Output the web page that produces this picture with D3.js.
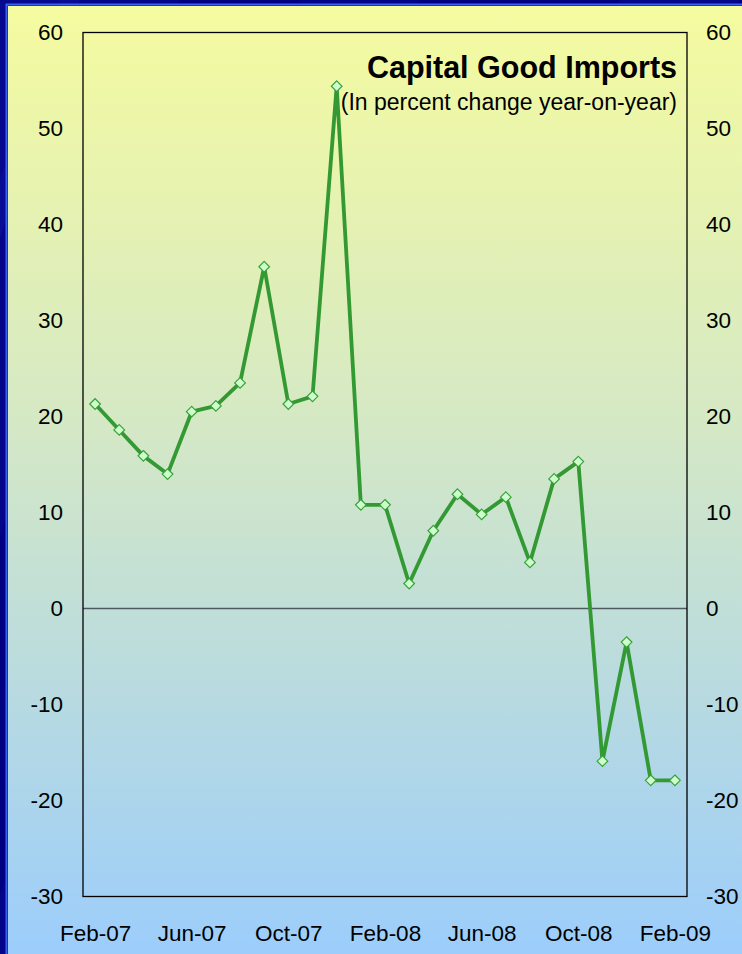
<!DOCTYPE html>
<html>
<head>
<meta charset="utf-8">
<script src="https://cdn.jsdelivr.net/npm/d3@7"></script>
<style>
  html, body { margin: 0; padding: 0; background: #000080; }
  svg { display: block; }
  text { font-family: "Liberation Sans", Arial, sans-serif; fill: #000; }
</style>
</head>
<body>
<svg id="chart" width="742" height="954"></svg>
<script>
// Monthly observations, Feb-07 through Feb-09
const months = [
  "Feb-07","Mar-07","Apr-07","May-07","Jun-07","Jul-07","Aug-07","Sep-07","Oct-07","Nov-07","Dec-07","Jan-08",
  "Feb-08","Mar-08","Apr-08","May-08","Jun-08","Jul-08","Aug-08","Sep-08","Oct-08","Nov-08","Dec-08","Jan-09","Feb-09"
];
const importGrowth = [
  21.3, 18.6, 15.9, 14.0, 20.5, 21.1, 23.5, 35.6, 21.3, 22.1, 54.4, 10.8,
  10.8, 2.6, 8.1, 11.9, 9.8, 11.6, 4.8, 13.5, 15.3, -15.9, -3.5, -17.9, -17.9
];
const yTicks = [60, 50, 40, 30, 20, 10, 0, -10, -20, -30];
const xTickLabels = ["Feb-07","Jun-07","Oct-07","Feb-08","Jun-08","Oct-08","Feb-09"];
const titleText = "Capital Good Imports";
const subtitleText = "(In percent change year-on-year)";

const W = 742, H = 954;
const plot = { left: 83, right: 687, top: 32.5, bottom: 896.5 };

const svg = d3.select("#chart");
const defs = svg.append("defs");

// Slide frame: navy with faint diagonal streaks
svg.append("rect").attr("width", W).attr("height", H).attr("fill", "#000080");
const streaks = [[-40, 0.10], [60, 0.07], [300, 0.06], [620, 0.08], [820, 0.05]];
streaks.forEach(([o, a]) => {
  svg.append("path")
    .attr("d", `M${o},0 L${o + 120},0 L${o - 200},${H} L${o - 320},${H} Z`)
    .attr("fill", "#3a4cff").attr("opacity", a);
});

// Background panel with vertical yellow-to-blue gradient
const grad = defs.append("linearGradient")
  .attr("id", "panelGrad").attr("x1", 0).attr("y1", 0).attr("x2", 0).attr("y2", 1);
grad.append("stop").attr("offset", "0%").attr("stop-color", "#f5fb9f");
grad.append("stop").attr("offset", "45%").attr("stop-color", "#d4e8c6");
grad.append("stop").attr("offset", "100%").attr("stop-color", "#9ccdfb");

svg.append("rect").attr("x", 6.5).attr("y", 4.5).attr("width", W).attr("height", H)
  .attr("fill", "none").attr("stroke", "#3a62f2").attr("stroke-width", 2);
svg.append("rect").attr("x", 8).attr("y", 6).attr("width", W - 8).attr("height", H - 6)
  .attr("fill", "url(#panelGrad)");

// Scales
const x = d3.scalePoint().domain(months).range([plot.left, plot.right]).padding(0.5);
const y = d3.scaleLinear().domain([-30, 60]).range([plot.bottom, plot.top]);

// Zero line
svg.append("line")
  .attr("x1", plot.left).attr("x2", plot.right)
  .attr("y1", y(0)).attr("y2", y(0))
  .attr("stroke", "#4d5a60").attr("stroke-width", 1.3);

// Plot frame
svg.append("rect")
  .attr("x", plot.left).attr("y", plot.top)
  .attr("width", plot.right - plot.left).attr("height", plot.bottom - plot.top)
  .attr("fill", "none").attr("stroke", "#000").attr("stroke-width", 1.3);

// Axes (labels only); plain hyphen for negatives
const fmt = d => String(d);
const leftAxis = d3.axisLeft(y).tickValues(yTicks).tickFormat(fmt).tickSize(0).tickPadding(20);
const rightAxis = d3.axisRight(y).tickValues(yTicks).tickFormat(fmt).tickSize(0).tickPadding(19);
const bottomAxis = d3.axisBottom(x).tickValues(xTickLabels).tickSize(0).tickPadding(0);

function styleAxis(g) {
  g.select(".domain").remove();
  g.selectAll("text").style("font-size", "22.5px").attr("fill", "#000")
    .style("font-family", '"Liberation Sans", Arial, sans-serif');
}
svg.append("g").attr("transform", `translate(${plot.left},0)`).call(leftAxis).call(styleAxis);
svg.append("g").attr("transform", `translate(${plot.right},0)`).call(rightAxis).call(styleAxis);
const xg = svg.append("g").attr("transform", `translate(0,${plot.bottom})`).call(bottomAxis).call(styleAxis);
xg.selectAll("text").attr("y", 0).attr("dy", 0).attr("transform", "translate(0,44)");

// Series line
const line = d3.line().x((d, i) => x(months[i])).y(d => y(d));
svg.append("path")
  .datum(importGrowth)
  .attr("d", line)
  .attr("fill", "none")
  .attr("stroke", "#339933")
  .attr("stroke-width", 3.8)
  .attr("stroke-linejoin", "round");

// Diamond markers
const diamond = d3.symbol().type(d3.symbolDiamond2).size(72);
svg.append("g").selectAll("path")
  .data(importGrowth)
  .join("path")
  .attr("d", diamond)
  .attr("transform", (d, i) => `translate(${x(months[i])},${y(d)})`)
  .attr("fill", "#ccffcc")
  .attr("stroke", "#3aa03a")
  .attr("stroke-width", 1.2);

// Title block
svg.append("text")
  .attr("x", 677).attr("y", 78)
  .attr("text-anchor", "end")
  .style("font-size", "30.5px").style("font-weight", "bold")
  .text(titleText);
svg.append("text")
  .attr("x", 677).attr("y", 110)
  .attr("text-anchor", "end")
  .style("font-size", "23px")
  .text(subtitleText);
</script>
</body>
</html>
